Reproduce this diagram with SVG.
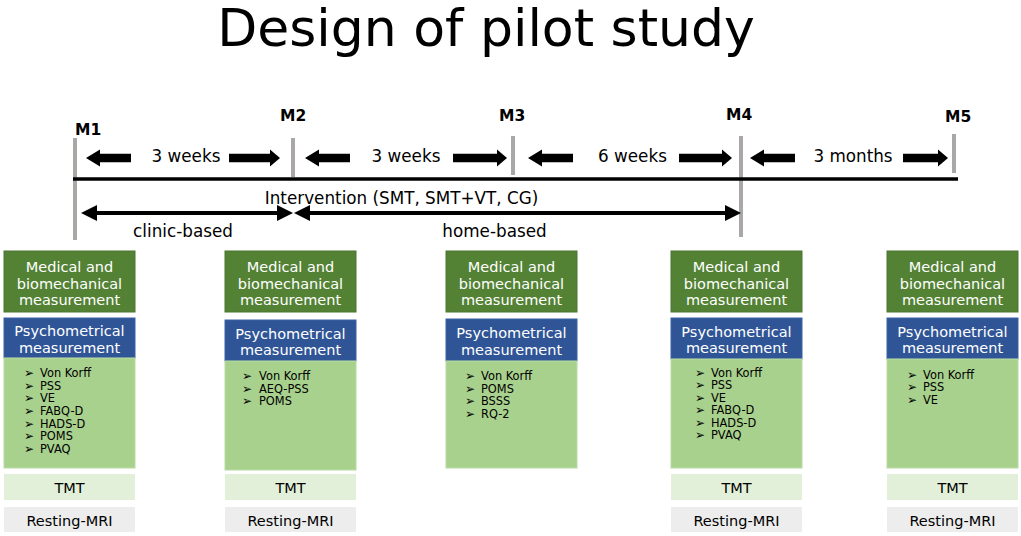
<svg xmlns="http://www.w3.org/2000/svg" width="1021" height="536" viewBox="0 0 1021 536">
<style>
text{font-family:"DejaVu Sans","Liberation Sans",sans-serif;}
.title{font-size:52px;fill:#000;text-anchor:middle;}
.ml{font-size:15.5px;font-weight:bold;fill:#000;}
.tl{font-size:16.8px;fill:#000;text-anchor:middle;}
.tick{stroke:#aaa7a7;stroke-width:4;}
.blk{fill:#000;}
.med{fill:#548235;stroke:#4a7430;stroke-width:1;}
.psy{fill:#2f5597;stroke:#3b62a6;stroke-width:1;}
.lst{fill:#a9d18e;stroke:#b8dba1;stroke-width:1;}
.tmt{fill:#e2f0d9;}
.mri{fill:#ededed;}
.wt{font-size:14.5px;fill:#fff;text-anchor:middle;}
.bt{font-size:14.5px;fill:#000;text-anchor:middle;}
.li{font-size:11.4px;fill:#000;}
.bu{font-size:12px;fill:#000;}
</style>
<rect width="1021" height="536" fill="#fff"/>
<text class="title" x="486" y="46">Design of pilot study</text>

<g id="connectors">
  <line class="tick" x1="75" y1="138" x2="75" y2="240"/>
  <line class="tick" x1="293" y1="138" x2="293" y2="177"/>
  <line class="tick" x1="513" y1="136" x2="513" y2="175"/>
  <line class="tick" x1="741" y1="136" x2="741" y2="237"/>
  <line class="tick" x1="954" y1="134" x2="954" y2="173"/>
  <line x1="73" y1="179" x2="958" y2="179" stroke="#000" stroke-width="3.5"/>
  <polygon class="blk" points="86,158 100,149.5 100,153.8 131,153.8 131,162.2 100,162.2 100,166.5"/>
  <polygon class="blk" points="280,158 270,149.5 270,153.8 229,153.8 229,162.2 270,162.2 270,166.5"/>
  <polygon class="blk" points="305,158 319,149.5 319,153.8 350,153.8 350,162.2 319,162.2 319,166.5"/>
  <polygon class="blk" points="507,158 497,149.5 497,153.8 453,153.8 453,162.2 497,162.2 497,166.5"/>
  <polygon class="blk" points="528,158 542,149.5 542,153.8 573,153.8 573,162.2 542,162.2 542,166.5"/>
  <polygon class="blk" points="732,158 722,149.5 722,153.8 679,153.8 679,162.2 722,162.2 722,166.5"/>
  <polygon class="blk" points="750,158 764,149.5 764,153.8 795,153.8 795,162.2 764,162.2 764,166.5"/>
  <polygon class="blk" points="948,158 938,149.5 938,153.8 903,153.8 903,162.2 938,162.2 938,166.5"/>
  <polygon class="blk" points="81,213 97,205 97,211 277,211 277,205 293,213 277,221 277,215 97,215 97,221"/>
  <polygon class="blk" points="294,213 310,205 310,211 725,211 725,205 741,213 725,221 725,215 310,215 310,221"/>
  <text class="ml" x="75" y="135">M1</text>
  <text class="ml" x="280" y="121">M2</text>
  <text class="ml" x="499" y="121">M3</text>
  <text class="ml" x="726" y="120">M4</text>
  <text class="ml" x="945" y="122">M5</text>
  <text class="tl" x="186" y="162">3 weeks</text>
  <text class="tl" x="406" y="162">3 weeks</text>
  <text class="tl" x="632.5" y="162">6 weeks</text>
  <text class="tl" x="853" y="162">3 months</text>
  <text class="tl" x="401.5" y="204">Intervention (SMT, SMT+VT, CG)</text>
  <text class="tl" x="183" y="237">clinic-based</text>
  <text class="tl" x="494.5" y="237">home-based</text>
</g>

<g id="m1">
  <rect class="med" x="4" y="251" width="131" height="61"/>
  <text class="wt" x="69.5" y="272">Medical and</text>
  <text class="wt" x="69.5" y="288.5">biomechanical</text>
  <text class="wt" x="69.5" y="305">measurement</text>
  <rect class="psy" x="4" y="318" width="131" height="40"/>
  <text class="wt" x="69.5" y="336">Psychometrical</text>
  <text class="wt" x="69.5" y="352.5">measurement</text>
  <rect class="lst" x="4" y="358" width="131" height="110"/>
  <g class="bu"><text x="24" y="377">➢</text><text x="24" y="389.7">➢</text><text x="24" y="402.3">➢</text><text x="24" y="415">➢</text><text x="24" y="427.7">➢</text><text x="24" y="440.3">➢</text><text x="24" y="453">➢</text></g>
  <g class="li"><text x="40" y="377">Von Korff</text><text x="40" y="389.7">PSS</text><text x="40" y="402.3">VE</text><text x="40" y="415">FABQ-D</text><text x="40" y="427.7">HADS-D</text><text x="40" y="440.3">POMS</text><text x="40" y="453">PVAQ</text></g>
  <rect class="tmt" x="4" y="474" width="131" height="26"/>
  <text class="bt" x="69.5" y="493">TMT</text>
  <rect class="mri" x="4" y="507" width="131" height="25"/>
  <text class="bt" x="69.5" y="526">Resting-MRI</text>
</g>

<g id="m2">
  <rect class="med" x="225" y="251" width="131" height="61"/>
  <text class="wt" x="290.5" y="272">Medical and</text>
  <text class="wt" x="290.5" y="288.5">biomechanical</text>
  <text class="wt" x="290.5" y="305">measurement</text>
  <rect class="psy" x="225" y="320" width="131" height="41"/>
  <text class="wt" x="290.5" y="338.5">Psychometrical</text>
  <text class="wt" x="290.5" y="355">measurement</text>
  <rect class="lst" x="225" y="361" width="131" height="109"/>
  <g class="bu"><text x="242" y="380">➢</text><text x="242" y="392.7">➢</text><text x="242" y="405.3">➢</text></g>
  <g class="li"><text x="259" y="380">Von Korff</text><text x="259" y="392.7">AEQ-PSS</text><text x="259" y="405.3">POMS</text></g>
  <rect class="tmt" x="225" y="474" width="131" height="26"/>
  <text class="bt" x="290.5" y="493">TMT</text>
  <rect class="mri" x="225" y="507" width="131" height="25"/>
  <text class="bt" x="290.5" y="526">Resting-MRI</text>
</g>

<g id="m3">
  <rect class="med" x="446" y="251" width="131" height="61"/>
  <text class="wt" x="511.5" y="272">Medical and</text>
  <text class="wt" x="511.5" y="288.5">biomechanical</text>
  <text class="wt" x="511.5" y="305">measurement</text>
  <rect class="psy" x="446" y="319" width="131" height="42"/>
  <text class="wt" x="511.5" y="338">Psychometrical</text>
  <text class="wt" x="511.5" y="354.5">measurement</text>
  <rect class="lst" x="446" y="361" width="131" height="107"/>
  <g class="bu"><text x="465" y="380">➢</text><text x="465" y="392.7">➢</text><text x="465" y="405.3">➢</text><text x="465" y="418">➢</text></g>
  <g class="li"><text x="481" y="380">Von Korff</text><text x="481" y="392.7">POMS</text><text x="481" y="405.3">BSSS</text><text x="481" y="418">RQ-2</text></g>
</g>

<g id="m4">
  <rect class="med" x="671" y="251" width="131" height="61"/>
  <text class="wt" x="736.5" y="272">Medical and</text>
  <text class="wt" x="736.5" y="288.5">biomechanical</text>
  <text class="wt" x="736.5" y="305">measurement</text>
  <rect class="psy" x="671" y="318" width="131" height="41"/>
  <text class="wt" x="736.5" y="336.5">Psychometrical</text>
  <text class="wt" x="736.5" y="353">measurement</text>
  <rect class="lst" x="671" y="359" width="131" height="109"/>
  <g class="bu"><text x="695" y="376.5">➢</text><text x="695" y="389">➢</text><text x="695" y="401.5">➢</text><text x="695" y="414">➢</text><text x="695" y="426.5">➢</text><text x="695" y="439">➢</text></g>
  <g class="li"><text x="711" y="376.5">Von Korff</text><text x="711" y="389">PSS</text><text x="711" y="401.5">VE</text><text x="711" y="414">FABQ-D</text><text x="711" y="426.5">HADS-D</text><text x="711" y="439">PVAQ</text></g>
  <rect class="tmt" x="671" y="474" width="131" height="26"/>
  <text class="bt" x="736.5" y="493">TMT</text>
  <rect class="mri" x="671" y="507" width="131" height="25"/>
  <text class="bt" x="736.5" y="526">Resting-MRI</text>
</g>

<g id="m5">
  <rect class="med" x="887" y="251" width="131" height="61"/>
  <text class="wt" x="952.5" y="272">Medical and</text>
  <text class="wt" x="952.5" y="288.5">biomechanical</text>
  <text class="wt" x="952.5" y="305">measurement</text>
  <rect class="psy" x="887" y="318" width="131" height="41"/>
  <text class="wt" x="952.5" y="336.5">Psychometrical</text>
  <text class="wt" x="952.5" y="353">measurement</text>
  <rect class="lst" x="887" y="359" width="131" height="109"/>
  <g class="bu"><text x="907" y="378.5">➢</text><text x="907" y="391">➢</text><text x="907" y="403.5">➢</text></g>
  <g class="li"><text x="923" y="378.5">Von Korff</text><text x="923" y="391">PSS</text><text x="923" y="403.5">VE</text></g>
  <rect class="tmt" x="887" y="474" width="131" height="26"/>
  <text class="bt" x="952.5" y="493">TMT</text>
  <rect class="mri" x="887" y="507" width="131" height="25"/>
  <text class="bt" x="952.5" y="526">Resting-MRI</text>
</g>
</svg>
